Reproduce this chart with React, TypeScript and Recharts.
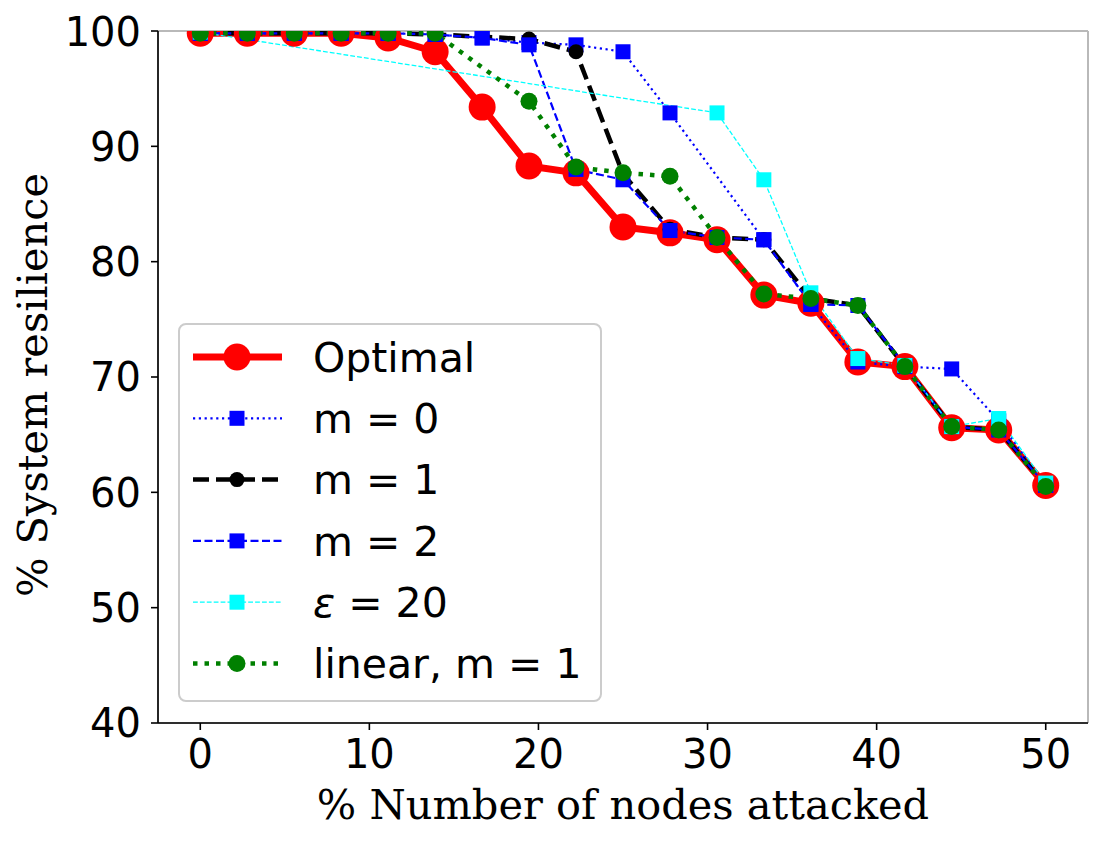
import { LineChart, Line, XAxis, YAxis, CartesianGrid, Legend } from "recharts";

// % of nodes attacked (k / 36 of the network, k = 0..18)
const attacked = [
  0, 2.78, 5.56, 8.33, 11.11, 13.89, 16.67, 19.44, 22.22, 25, 27.78, 30.56,
  33.33, 36.11, 38.89, 41.67, 44.44, 47.22, 50,
];

// % system resilience per strategy; null = no sample at that step
const optimal = [
  99.8, 99.8, 99.8, 99.8, 99.4, 98.2, 93.4, 88.3, 87.7, 83.0, 82.5, 81.9,
  77.1, 76.4, 71.3, 70.9, 65.6, 65.4, 60.6,
];
const mZero = [
  99.8, 99.8, 99.8, 99.8, 99.8, 99.7, 99.4, 99.0, 98.8, 98.2, 92.9, null,
  81.9, 76.3, 71.3, 70.9, 70.7, 66.2, 60.6,
];
const mOne = [
  99.8, 99.8, 99.8, 99.8, 99.8, 99.7, 99.5, 99.3, 98.2, 87.6, 82.8, 82.1,
  81.9, 76.8, 76.2, 70.9, 65.7, 65.4, 60.6,
];
const mTwo = [
  99.8, 99.8, 99.8, 99.8, 99.8, 99.7, 99.4, 98.8, 88.0, 87.1, 82.7, 82.1,
  81.9, 76.3, 76.2, 71.0, 65.7, 65.4, 60.6,
];
const eps20 = [
  99.9, null, null, null, null, null, null, null, null, null, null, 92.9,
  87.1, 77.3, 71.6, 71.0, 65.7, 66.4, 60.8,
];
const linearOne = [
  99.8, 99.8, 99.8, 99.8, 99.8, 99.8, null, 93.9, 88.2, 87.7, 87.4, 82.1,
  77.2, 76.8, 76.2, 70.9, 65.7, 65.4, 60.5,
];

const xTicks = [0, 10, 20, 30, 40, 50];
const yTicks = [40, 50, 60, 70, 80, 90, 100];

const toPoints = (vals: (number | null)[]) =>
  attacked
    .map((x, i) => ({ x, y: vals[i] }))
    .filter((p) => p.y != null);

type Marker = { shape: "circle" | "square"; size: number; color: string };

type Series = {
  name: string;
  values: (number | null)[];
  color: string;
  width: number;
  dash?: string;
  marker: Marker;
};

const series: Series[] = [
  { name: "Optimal", values: optimal, color: "#ff0000", width: 7, marker: { shape: "circle", size: 27, color: "#ff0000" } },
  { name: "m = 0", values: mZero, color: "#0000ff", width: 2.2, dash: "2.2 3.6", marker: { shape: "square", size: 15, color: "#0000ff" } },
  { name: "m = 1", values: mOne, color: "#000000", width: 4.5, dash: "16 7", marker: { shape: "circle", size: 15, color: "#000000" } },
  { name: "m = 2", values: mTwo, color: "#0000ff", width: 2.2, dash: "8 3.5", marker: { shape: "square", size: 15, color: "#0000ff" } },
  { name: "ε = 20", values: eps20, color: "#00ffff", width: 1.3, dash: "4.8 2.1", marker: { shape: "square", size: 15, color: "#00ffff" } },
  { name: "linear, m = 1", values: linearOne, color: "#008000", width: 4.5, dash: "4.5 7", marker: { shape: "circle", size: 17, color: "#008000" } },
];

const drawMarker = (m: Marker, cx: number, cy: number, key?: string) =>
  m.shape === "square" ? (
    <rect key={key} x={cx - m.size / 2} y={cy - m.size / 2} width={m.size} height={m.size} fill={m.color} />
  ) : (
    <circle key={key} cx={cx} cy={cy} r={m.size / 2} fill={m.color} />
  );

const markerDot = (m: Marker) => (props: any) => {
  const { cx, cy, key } = props;
  if (cx == null || cy == null) return <g key={key} />;
  return drawMarker(m, cx, cy, key);
};

const TICK_FONT = { fontFamily: "DejaVu Sans", fontSize: 40, fill: "#000" };
const LABEL_FONT = "DejaVu Serif";
const LABEL_SIZE = 41.5;

const LegendBox = () => (
  <div
    style={{
      width: 424,
      height: 379,
      boxSizing: "border-box",
      border: "2px solid #cccccc",
      borderRadius: 8,
      background: "rgba(255,255,255,0.8)",
    }}
  >
    <svg width={420} height={375}>
      {series.map((s, i) => {
        const cy = 32 + i * 61.3;
        return (
          <g key={s.name}>
            <line x1={13} x2={102} y1={cy} y2={cy} stroke={s.color} strokeWidth={s.width} strokeDasharray={s.dash} />
            {drawMarker(s.marker, 57, cy)}
            <text x={133} y={cy} dy="0.36em" fontFamily="DejaVu Sans" fontSize={41} fill="#000">
              {s.name.startsWith("ε") ? (
                <>
                  <tspan fontStyle="italic">ε</tspan>
                  {s.name.slice(1)}
                </>
              ) : (
                s.name
              )}
            </text>
          </g>
        );
      })}
    </svg>
  </div>
);

export default function App() {
  return (
    <LineChart width={1103} height={835} margin={{ top: 23, right: 23, left: 0, bottom: 0 }}>
      <CartesianGrid stroke="#b9b9b9" strokeWidth={2} />
      <XAxis
        xAxisId="main"
        dataKey="x"
        type="number"
        domain={[-2.5, 52.5]}
        ticks={xTicks}
        allowDataOverflow
        height={120}
        tickSize={7}
        tickMargin={10}
        tick={TICK_FONT}
        axisLine={{ stroke: "#000", strokeWidth: 1.6 }}
        tickLine={{ stroke: "#000", strokeWidth: 1.6 }}
        label={({ viewBox }: any) => (
          <text
            x={viewBox.x + viewBox.width / 2}
            y={viewBox.y + 96}
            textAnchor="middle"
            fontFamily={LABEL_FONT}
            fontSize={LABEL_SIZE}
            fill="#000"
          >
            % Number of nodes attacked
          </text>
        )}
      />
      <XAxis
        xAxisId="top"
        orientation="top"
        type="number"
        domain={[-2.5, 52.5]}
        height={0}
        tick={false}
        tickLine={false}
        axisLine={{ stroke: "#000", strokeWidth: 1.6 }}
      />
      <YAxis
        yAxisId="main"
        type="number"
        domain={[40, 100]}
        ticks={yTicks}
        allowDataOverflow
        width={150}
        tickSize={7}
        tickMargin={10}
        tick={TICK_FONT}
        axisLine={{ stroke: "#000", strokeWidth: 1.6 }}
        tickLine={{ stroke: "#000", strokeWidth: 1.6 }}
        label={({ viewBox }: any) => (
          <text
            x={39}
            y={viewBox.y + viewBox.height / 2 + 8}
            transform={`rotate(-90 39 ${viewBox.y + viewBox.height / 2 + 8})`}
            textAnchor="middle"
            fontFamily={LABEL_FONT}
            fontSize={LABEL_SIZE}
            fill="#000"
          >
            % System resilience
          </text>
        )}
      />
      <YAxis
        yAxisId="right"
        orientation="right"
        type="number"
        domain={[40, 100]}
        width={0}
        tick={false}
        tickLine={false}
        axisLine={{ stroke: "#000", strokeWidth: 1.6 }}
      />
      {series.map((s) => (
        <Line
          key={s.name}
          xAxisId="main"
          yAxisId="main"
          data={toPoints(s.values)}
          dataKey="y"
          name={s.name}
          type="linear"
          stroke={s.color}
          strokeWidth={s.width}
          strokeDasharray={s.dash}
          strokeLinejoin="round"
          dot={markerDot(s.marker)}
          activeDot={false}
          isAnimationActive={false}
        />
      ))}
      <Legend
        layout="horizontal"
        verticalAlign="middle"
        align="center"
        content={() => <LegendBox />}
        wrapperStyle={{ left: 170, top: 315, width: 424, height: 379 }}
      />
    </LineChart>
  );
}
